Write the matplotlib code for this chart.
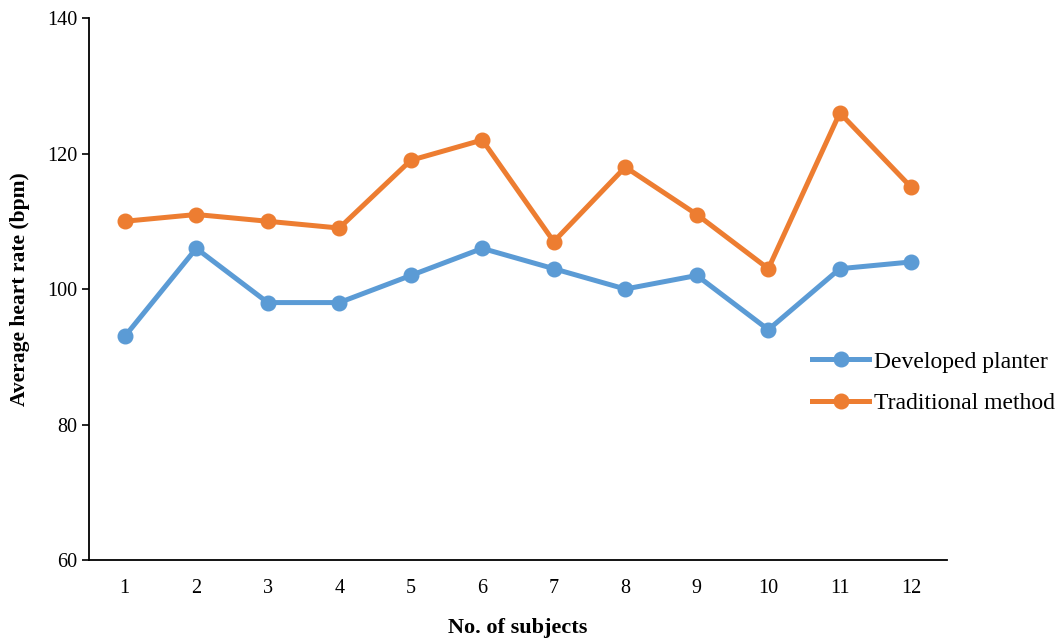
import matplotlib.pyplot as plt

plt.rcParams['font.family'] = ['Liberation Serif', 'DejaVu Serif']

subjects = list(range(1, 13))
developed_planter = [93, 106, 98, 98, 102, 106, 103, 100, 102, 94, 103, 104]
traditional_method = [110, 111, 110, 109, 119, 122, 107, 118, 111, 103, 126, 115]

fig = plt.figure(figsize=(10.62, 6.44), dpi=100)
ax = fig.add_axes([0.0838, 0.1304, 0.808, 0.8416])

ax.plot(subjects, developed_planter, color='#5B9BD5', linewidth=3.6,
        marker='o', markersize=10.5, label='Developed planter')
ax.plot(subjects, traditional_method, color='#ED7D31', linewidth=3.6,
        marker='o', markersize=10.5, label='Traditional method')

ax.set_xlim(0.5, 12.5)
ax.set_ylim(60, 140)
ax.set_yticks([60, 80, 100, 120, 140])
ax.set_xticks(subjects)
ax.tick_params(axis='x', length=0, labelsize=14.5, pad=14)
ax.tick_params(axis='y', length=5, width=1.2, labelsize=14.5)

for side in ['top', 'right']:
    ax.spines[side].set_visible(False)
for side in ['left', 'bottom']:
    ax.spines[side].set_linewidth(1.3)

ax.set_xlabel('No. of subjects', fontsize=16, fontweight='bold', labelpad=14)
ax.set_ylabel('Average heart rate (bpm)', fontsize=15.5, fontweight='bold', labelpad=12)

ax.legend(loc='center left', bbox_to_anchor=(0.843, 0.327), frameon=False,
          fontsize=17, handlelength=2.4, handletextpad=0.2, labelspacing=0.85,
          borderaxespad=0, borderpad=0)

fig.savefig('out.png', dpi=100)
